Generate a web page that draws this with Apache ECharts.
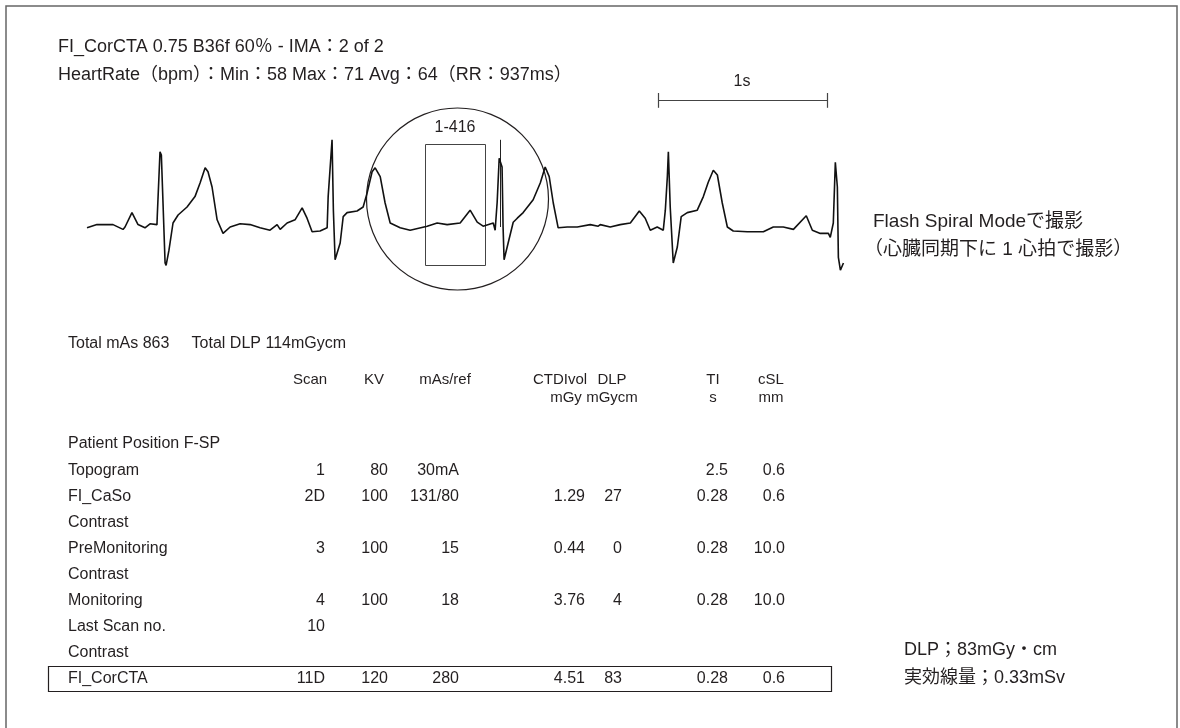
<!DOCTYPE html>
<html><head><meta charset="utf-8">
<script src="https://cdn.jsdelivr.net/npm/echarts@6/dist/echarts.min.js"></script>
<style>html,body{margin:0;padding:0;background:#fff}#c{width:1180px;height:728px}</style>
</head><body><div id="c"></div>
<script>
// ECG trace: time (ms) and amplitude (mV)
const ecgTime = [0,59,107,154,213,225,266,302,343,373,414,416,432,440,462,468,485,509,539,592,639,669,699,716,740,770,805,847,906,965,1024,1083,1125,1143,1184,1231,1273,1302,1332,1379,1421,
 1427,1450,1458,1468,1474,1498,1516,1539,1598,1634,1658,1687,1705,1735,1764,1794,1853,1912,2013,2072,2131,2208,2267,2309,2344,2404,2415,
 2427,2439,2456,2462,2468,2492,2522,2546,2581,2640,2682,2711,2735,2759,2788,2842,2901,2978,3025,3037,3096,3155,3215,3268,3303,3333,3374,3410,
 3422,3434,3440,3451,3469,3493,3516,3552,3611,3647,3676,3706,3730,3759,3789,3824,3907,4002,4061,4120,4180,4256,4292,4339,4387,4398,
 4416,4428,4440,4446,4458,4476];
const ecgValue = [-0.01,0.03,0.03,0.03,-0.03,0,0.18,0.03,-0.01,0.04,0.03,0.15,0.94,0.9,-0.45,-0.48,-0.29,0.05,0.15,0.25,0.38,0.55,0.74,0.69,0.5,0.09,-0.08,0,0.04,0.03,-0.01,-0.04,0.03,-0.03,0.05,0.09,0.24,0.11,-0.06,-0.05,-0.01,
 0.38,1.09,0.2,-0.41,-0.43,-0.2,0.13,0.18,0.2,0.25,0.43,0.69,0.74,0.63,0.3,0.05,-0.01,-0.04,0.01,0.05,0.03,0.05,0.21,0.06,0.01,0.05,-0.04,
 0.31,0.86,0.75,0,-0.41,-0.2,0.06,0.11,0.18,0.34,0.55,0.75,0.63,0.3,-0.01,0,0,0.03,0.01,0.03,0,0.03,0.05,0.2,0.11,-0.04,0,-0.04,
 0.21,0.63,0.94,0.25,-0.45,-0.25,0.13,0.18,0.21,0.38,0.56,0.71,0.65,0.3,0,-0.05,-0.06,-0.06,0,0,-0.03,0.14,-0.04,-0.08,-0.08,-0.13,
 0.05,0.81,0.5,-0.38,-0.54,-0.45];
const scaleBarStart = 3380, scaleBarLength = 1000; // 1 s
const triggerTime = 2448;

// Header texts
const titleLine1 = 'FI_CorCTA 0.75 B36f 60％ - IMA：2 of 2';
const titleLine2 = 'HeartRate（bpm）：Min：58 Max：71 Avg：64（RR：937ms）';
const modeLines = ['Flash Spiral Modeで撮影', '（心臓同期下に 1 心拍で撮影）'];
const totalsText = 'Total mAs 863     Total DLP 114mGycm';
const doseLines = ['DLP；83mGy・cm', '実効線量；0.33mSv'];

// Table
const colHeaders1 = ['Scan','KV','mAs/ref','CTDIvol','DLP','TI','cSL'];
const colHeaders2 = ['','','','mGy','mGycm','s','mm'];
const rowLabels = ['Patient Position F-SP','Topogram','FI_CaSo','Contrast','PreMonitoring','Contrast','Monitoring','Last Scan no.','Contrast','FI_CorCTA'];
const scanCol = ['','1','2D','','3','','4','10','','11D'];
const kvCol   = ['','80','100','','100','','100','','','120'];
const masCol  = ['','30mA','131/80','','15','','18','','','280'];
const ctdiCol = ['','','1.29','','0.44','','3.76','','','4.51'];
const dlpCol  = ['','','27','','0','','4','','','83'];
const tiCol   = ['','2.5','0.28','','0.28','','0.28','','','0.28'];
const cslCol  = ['','0.6','0.6','','10.0','','10.0','','','0.6'];

const FONT = '"Liberation Sans", Arial, "Noto Sans CJK JP", sans-serif';
const TC = '#231f20';
const chart = echarts.init(document.getElementById('c'));

function txt(x, y, s, align, size) {
  return {type:'text', x:x, y:y, silent:true, style:{text:s, fill:TC, font:(size||16)+'px '+FONT, textAlign:align||'left', textVerticalAlign:'middle'}};
}
const g = [];
g.push({type:'rect', shape:{x:6, y:6, width:1171, height:740}, style:{fill:'none', stroke:'#666', lineWidth:1.5}, silent:true});
g.push(txt(58, 47, titleLine1, 'left', 18));
g.push(txt(58, 75, titleLine2, 'left', 18));
g.push(txt(742, 82, '1s', 'center', 16));
g.push(txt(873, 222, modeLines[0], 'left', 19));
g.push(txt(864, 250, modeLines[1], 'left', 19));
g.push({type:'circle', shape:{cx:457.5, cy:199, r:91}, style:{fill:'none', stroke:TC, lineWidth:1.2}, silent:true});
g.push({type:'rect', shape:{x:425.5, y:144.5, width:60, height:121}, style:{fill:'none', stroke:'#444', lineWidth:1}, silent:true});
g.push(txt(455, 128, '1-416', 'center', 16));
g.push(txt(68, 344, totalsText));
const colX = [325, 388, 459, 585, 622, 728, 785];
const headX = [310, 374, 445, 560, 612, 713, 771];
colHeaders1.forEach((h,i)=>g.push(txt(headX[i], 380, h, 'center', 15)));
colHeaders2.forEach((h,i)=>{ if(h) g.push(txt(headX[i]+ (i===3?6:0), 398, h, 'center', 15)); });
const cols = [scanCol, kvCol, masCol, ctdiCol, dlpCol, tiCol, cslCol];
rowLabels.forEach((r,k)=>{
  const y = 444 + k*26.1;
  g.push(txt(68, y, r));
  cols.forEach((c,i)=>{ if(c[k]) g.push(txt(colX[i], y, c[k], 'right')); });
});
g.push({type:'rect', shape:{x:48.5, y:666.5, width:783, height:25}, style:{fill:'none', stroke:TC, lineWidth:1.2}, silent:true});
g.push(txt(904, 650, doseLines[0], 'left', 18));
g.push(txt(904, 678, doseLines[1], 'left', 18));

chart.setOption({
  animation:false,
  backgroundColor:'#fff',
  grid:{left:87, width:760.5, top:107, height:200},
  xAxis:{type:'value', min:0, max:4500, show:false},
  yAxis:{type:'value', min:-1, max:1.5, show:false},
  series:[
    {type:'line', data: ecgTime.map((t,i)=>[t, ecgValue[i]]), symbol:'none', lineStyle:{color:'#111', width:1.6}, clip:false},
    {type:'lines', coordinateSystem:'cartesian2d', polyline:false, clip:false,
     lineStyle:{color:'#444', width:1.2, opacity:1},
     data:[
       {coords:[[scaleBarStart,1.5875],[scaleBarStart+scaleBarLength,1.5875]]},
       {coords:[[scaleBarStart,1.675],[scaleBarStart,1.49]]},
       {coords:[[scaleBarStart+scaleBarLength,1.675],[scaleBarStart+scaleBarLength,1.49]]},
       {coords:[[triggerTime,1.09],[triggerTime,0]], lineStyle:{width:1, color:'#222'}}
     ]}
  ],
  graphic:g
});
</script></body></html>
